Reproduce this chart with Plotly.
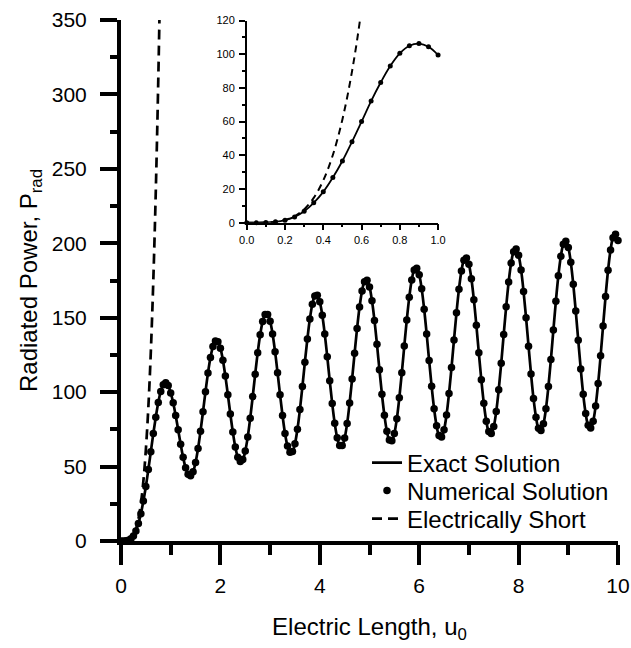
import plotly.graph_objects as go

# Electric length grid (step 0.05) and radiated power
u0 = [round(0.05 * i, 2) for i in range(201)]
p_rad = [
    0, 0.0, 0.1, 0.5, 1.5, 3.4, 6.8, 11.8, 18.3, 26.8, 36.6, 48.0, 60.0, 72.2, 83.2, 93.0, 100.5, 105.0, 106.3, 104.4,
    99.5, 92.9, 84.3, 74.8, 65.0, 56.2, 49.2, 44.8, 43.8, 46.5, 52.7, 62.1, 73.8, 86.9, 100.3, 112.8, 123.2, 130.6, 134.3, 133.9,
    129.5, 121.5, 110.8, 98.3, 85.3, 73.2, 63.2, 56.3, 53.4, 54.7, 60.4, 69.9, 82.5, 97.0, 112.1, 126.4, 138.5, 147.4, 152.1, 152.2,
    147.7, 139.1, 127.2, 113.1, 98.3, 84.3, 72.3, 63.8, 59.6, 60.1, 65.4, 75.1, 88.3, 103.8, 120.1, 135.7, 149.1, 159.0, 164.6, 165.1,
    160.7, 151.7, 139.0, 123.8, 107.7, 92.3, 79.1, 69.4, 64.2, 64.1, 69.2, 79.0, 92.7, 108.9, 126.1, 142.8, 157.2, 168.0, 174.2, 175.1,
    170.7, 161.4, 148.2, 132.2, 115.1, 98.6, 84.4, 73.7, 67.8, 67.3, 72.2, 82.1, 96.2, 113.0, 131.0, 148.5, 163.7, 175.3, 182.0, 183.2,
    178.9, 169.4, 155.7, 139.1, 121.2, 103.9, 88.8, 77.4, 70.9, 69.9, 74.7, 84.7, 99.1, 116.5, 135.1, 153.3, 169.2, 181.4, 188.6, 190.1,
    185.9, 176.2, 162.1, 144.9, 126.4, 108.3, 92.5, 80.5, 73.5, 72.2, 76.9, 87.0, 101.6, 119.4, 138.7, 157.4, 174.0, 186.7, 194.3, 196.1,
    191.9, 182.1, 167.6, 150.0, 130.9, 112.2, 95.7, 83.2, 75.7, 74.2, 78.7, 88.9, 103.8, 122.0, 141.8, 161.1, 178.2, 191.3, 199.3, 201.3,
    197.2, 187.2, 172.5, 154.5, 134.9, 115.6, 98.6, 85.6, 77.7, 75.9, 80.4, 90.7, 105.8, 124.4, 144.5, 164.3, 181.9, 195.5, 203.8, 206.0,
    201.9,
]

# Electrically short approximation
short_u = [0.0, 0.05, 0.10, 0.15, 0.20, 0.25, 0.30, 0.35, 0.40, 0.45, 0.50, 0.55, 0.60, 0.65, 0.70, 0.75, 0.80]
short_p = [0.0, 0.006, 0.1, 0.5, 1.6, 3.8, 7.9, 14.7, 25.1, 40.2, 61.3, 89.7, 127.0, 175.0, 235.0, 310.0, 401.0]

# Inset covers u0 in [0, 1]
n_in = 21
inset_u = u0[:n_in]
inset_p = p_rad[:n_in]

FONT = "Arial, Liberation Sans, sans-serif"
LEG_FONT = dict(size=24, family=FONT)

fig = go.Figure()
fig.add_trace(go.Scatter(x=u0, y=p_rad, mode="lines", name="Exact Solution", legend="legend",
                         line=dict(color="black", width=2.7, shape="spline")))
fig.add_trace(go.Scatter(x=u0, y=p_rad, mode="markers", name="Numerical Solution", legend="legend2",
                         marker=dict(color="black", size=7.5), cliponaxis=False))
fig.add_trace(go.Scatter(x=short_u, y=short_p, mode="lines", name="Electrically Short", legend="legend3",
                         line=dict(color="black", width=2.7, dash="10px,6px", shape="spline")))

# inset
fig.add_trace(go.Scatter(x=inset_u, y=inset_p, mode="lines", showlegend=False,
                         line=dict(color="black", width=1.8, shape="spline"), xaxis="x2", yaxis="y2"))
fig.add_trace(go.Scatter(x=inset_u, y=inset_p, mode="markers", showlegend=False,
                         marker=dict(color="black", size=5), cliponaxis=False, xaxis="x2", yaxis="y2"))
fig.add_trace(go.Scatter(x=short_u, y=short_p, mode="lines", showlegend=False,
                         line=dict(color="black", width=2, dash="7px,5px", shape="spline"), xaxis="x2", yaxis="y2"))

leg_common = dict(x=0.495, xanchor="left", yanchor="middle", font=LEG_FONT,
                  bgcolor="rgba(0,0,0,0)", borderwidth=0)

fig.update_layout(
    width=631, height=648,
    margin=dict(l=121, r=13, t=20, b=107, autoexpand=False),
    paper_bgcolor="white", plot_bgcolor="white",
    font=dict(family=FONT, color="black"),
    showlegend=True,
    legend=dict(y=0.1497, **leg_common),
    legend2=dict(y=0.0960, **leg_common),
    legend3=dict(y=0.0422, **leg_common),
    xaxis=dict(range=[0, 10], showline=True, linewidth=4, linecolor="black", automargin=True,
               ticks="outside", ticklen=20, tickwidth=4, tickcolor="black", ticklabelstandoff=3,
               tick0=0, dtick=2, minor=dict(dtick=1, ticklen=10, tickwidth=4, ticks="outside", tickcolor="black"),
               tickfont=dict(size=21), showgrid=False, zeroline=False,
               title=dict(text="Electric Length, u<sub>0</sub>", font=dict(size=24), standoff=23)),
    yaxis=dict(range=[0, 350], showline=True, linewidth=4, linecolor="black", automargin=True,
               ticks="outside", ticklen=17, tickwidth=4, tickcolor="black", ticklabelstandoff=9,
               tick0=0, dtick=50, minor=dict(dtick=25, ticklen=7, tickwidth=4, ticks="outside", tickcolor="black"),
               tickfont=dict(size=21), showgrid=False, zeroline=False,
               title=dict(text="Radiated Power, P<sub>rad</sub>", font=dict(size=24), standoff=8)),
    xaxis2=dict(domain=[0.253, 0.638], anchor="y2", range=[0, 1], showline=True, linewidth=1.5,
                linecolor="black", ticks="outside", ticklen=6, tickwidth=1.5, tickcolor="black",
                tick0=0, dtick=0.2, tickformat=".1f", automargin=False,
                minor=dict(dtick=0.1, ticklen=3, tickwidth=1.5, ticks="outside", tickcolor="black"),
                tickfont=dict(size=11), showgrid=False, zeroline=False),
    yaxis2=dict(domain=[0.611, 0.999], anchor="x2", range=[0, 120], showline=True, linewidth=1.5,
                linecolor="black", ticks="outside", ticklen=6, tickwidth=1.5, tickcolor="black",
                tick0=0, dtick=20, automargin=False, ticklabelstandoff=2,
                minor=dict(dtick=10, ticklen=3, tickwidth=1.5, ticks="outside", tickcolor="black"),
                tickfont=dict(size=11), showgrid=False, zeroline=False),
)

fig.write_html("out.html")
